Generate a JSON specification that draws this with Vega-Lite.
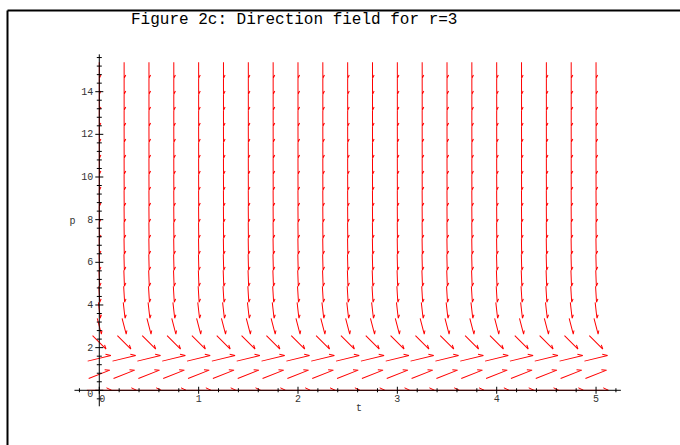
{
  "$schema": "https://vega.github.io/schema/vega-lite/v6.json",
  "width": 673,
  "height": 435,
  "autosize": {"type": "none"},
  "padding": {"left": 7, "top": 10, "right": 0, "bottom": 0},
  "background": "white",
  "config": {"view": {"stroke": null}},
  "title": {"text": "Figure 2c: Direction field for r=3", "font": "Liberation Mono", "fontSize": 16, "fontWeight": "normal", "color": "black", "anchor": "start", "frame": "group", "baseline": "alphabetic", "dx": 124, "offset": -30},
  "datasets": {
    "levels": [
      {"p":0,"ang":0,"len":1},
      {"p":0.75,"ang":-21.4,"len":0.917},
      {"p":1.5,"ang":-13.6,"len":0.963},
      {"p":2.25,"ang":44.9,"len":0.767},
      {"p":3,"ang":75.5,"len":0.656},
      {"p":3.75,"ang":83.6,"len":0.646},
      {"p":4.5,"ang":86.6,"len":0.645},
      {"p":5.25,"ang":87.9,"len":0.644},
      {"p":6,"ang":88.6,"len":0.644},
      {"p":6.75,"ang":89.1,"len":0.644},
      {"p":7.5,"ang":89.3,"len":0.644},
      {"p":8.25,"ang":89.5,"len":0.644},
      {"p":9,"ang":89.6,"len":0.644},
      {"p":9.75,"ang":89.7,"len":0.644},
      {"p":10.5,"ang":89.8,"len":0.644},
      {"p":11.25,"ang":89.8,"len":0.644},
      {"p":12,"ang":89.8,"len":0.644},
      {"p":12.75,"ang":89.9,"len":0.644},
      {"p":13.5,"ang":89.9,"len":0.644},
      {"p":14.25,"ang":89.9,"len":0.644},
      {"p":15,"ang":89.9,"len":0.644}
    ],
    "grid": [
      {"t":0,"p":0},{"t":0.25,"p":0},{"t":0.5,"p":0},{"t":0.75,"p":0},{"t":1,"p":0},{"t":1.25,"p":0},{"t":1.5,"p":0},{"t":1.75,"p":0},{"t":2,"p":0},{"t":2.25,"p":0},{"t":2.5,"p":0},{"t":2.75,"p":0},{"t":3,"p":0},{"t":3.25,"p":0},{"t":3.5,"p":0},{"t":3.75,"p":0},{"t":4,"p":0},{"t":4.25,"p":0},{"t":4.5,"p":0},{"t":4.75,"p":0},{"t":5,"p":0},
      {"t":0,"p":0.75},{"t":0.25,"p":0.75},{"t":0.5,"p":0.75},{"t":0.75,"p":0.75},{"t":1,"p":0.75},{"t":1.25,"p":0.75},{"t":1.5,"p":0.75},{"t":1.75,"p":0.75},{"t":2,"p":0.75},{"t":2.25,"p":0.75},{"t":2.5,"p":0.75},{"t":2.75,"p":0.75},{"t":3,"p":0.75},{"t":3.25,"p":0.75},{"t":3.5,"p":0.75},{"t":3.75,"p":0.75},{"t":4,"p":0.75},{"t":4.25,"p":0.75},{"t":4.5,"p":0.75},{"t":4.75,"p":0.75},{"t":5,"p":0.75},
      {"t":0,"p":1.5},{"t":0.25,"p":1.5},{"t":0.5,"p":1.5},{"t":0.75,"p":1.5},{"t":1,"p":1.5},{"t":1.25,"p":1.5},{"t":1.5,"p":1.5},{"t":1.75,"p":1.5},{"t":2,"p":1.5},{"t":2.25,"p":1.5},{"t":2.5,"p":1.5},{"t":2.75,"p":1.5},{"t":3,"p":1.5},{"t":3.25,"p":1.5},{"t":3.5,"p":1.5},{"t":3.75,"p":1.5},{"t":4,"p":1.5},{"t":4.25,"p":1.5},{"t":4.5,"p":1.5},{"t":4.75,"p":1.5},{"t":5,"p":1.5},
      {"t":0,"p":2.25},{"t":0.25,"p":2.25},{"t":0.5,"p":2.25},{"t":0.75,"p":2.25},{"t":1,"p":2.25},{"t":1.25,"p":2.25},{"t":1.5,"p":2.25},{"t":1.75,"p":2.25},{"t":2,"p":2.25},{"t":2.25,"p":2.25},{"t":2.5,"p":2.25},{"t":2.75,"p":2.25},{"t":3,"p":2.25},{"t":3.25,"p":2.25},{"t":3.5,"p":2.25},{"t":3.75,"p":2.25},{"t":4,"p":2.25},{"t":4.25,"p":2.25},{"t":4.5,"p":2.25},{"t":4.75,"p":2.25},{"t":5,"p":2.25},
      {"t":0,"p":3},{"t":0.25,"p":3},{"t":0.5,"p":3},{"t":0.75,"p":3},{"t":1,"p":3},{"t":1.25,"p":3},{"t":1.5,"p":3},{"t":1.75,"p":3},{"t":2,"p":3},{"t":2.25,"p":3},{"t":2.5,"p":3},{"t":2.75,"p":3},{"t":3,"p":3},{"t":3.25,"p":3},{"t":3.5,"p":3},{"t":3.75,"p":3},{"t":4,"p":3},{"t":4.25,"p":3},{"t":4.5,"p":3},{"t":4.75,"p":3},{"t":5,"p":3},
      {"t":0,"p":3.75},{"t":0.25,"p":3.75},{"t":0.5,"p":3.75},{"t":0.75,"p":3.75},{"t":1,"p":3.75},{"t":1.25,"p":3.75},{"t":1.5,"p":3.75},{"t":1.75,"p":3.75},{"t":2,"p":3.75},{"t":2.25,"p":3.75},{"t":2.5,"p":3.75},{"t":2.75,"p":3.75},{"t":3,"p":3.75},{"t":3.25,"p":3.75},{"t":3.5,"p":3.75},{"t":3.75,"p":3.75},{"t":4,"p":3.75},{"t":4.25,"p":3.75},{"t":4.5,"p":3.75},{"t":4.75,"p":3.75},{"t":5,"p":3.75},
      {"t":0,"p":4.5},{"t":0.25,"p":4.5},{"t":0.5,"p":4.5},{"t":0.75,"p":4.5},{"t":1,"p":4.5},{"t":1.25,"p":4.5},{"t":1.5,"p":4.5},{"t":1.75,"p":4.5},{"t":2,"p":4.5},{"t":2.25,"p":4.5},{"t":2.5,"p":4.5},{"t":2.75,"p":4.5},{"t":3,"p":4.5},{"t":3.25,"p":4.5},{"t":3.5,"p":4.5},{"t":3.75,"p":4.5},{"t":4,"p":4.5},{"t":4.25,"p":4.5},{"t":4.5,"p":4.5},{"t":4.75,"p":4.5},{"t":5,"p":4.5},
      {"t":0,"p":5.25},{"t":0.25,"p":5.25},{"t":0.5,"p":5.25},{"t":0.75,"p":5.25},{"t":1,"p":5.25},{"t":1.25,"p":5.25},{"t":1.5,"p":5.25},{"t":1.75,"p":5.25},{"t":2,"p":5.25},{"t":2.25,"p":5.25},{"t":2.5,"p":5.25},{"t":2.75,"p":5.25},{"t":3,"p":5.25},{"t":3.25,"p":5.25},{"t":3.5,"p":5.25},{"t":3.75,"p":5.25},{"t":4,"p":5.25},{"t":4.25,"p":5.25},{"t":4.5,"p":5.25},{"t":4.75,"p":5.25},{"t":5,"p":5.25},
      {"t":0,"p":6},{"t":0.25,"p":6},{"t":0.5,"p":6},{"t":0.75,"p":6},{"t":1,"p":6},{"t":1.25,"p":6},{"t":1.5,"p":6},{"t":1.75,"p":6},{"t":2,"p":6},{"t":2.25,"p":6},{"t":2.5,"p":6},{"t":2.75,"p":6},{"t":3,"p":6},{"t":3.25,"p":6},{"t":3.5,"p":6},{"t":3.75,"p":6},{"t":4,"p":6},{"t":4.25,"p":6},{"t":4.5,"p":6},{"t":4.75,"p":6},{"t":5,"p":6},
      {"t":0,"p":6.75},{"t":0.25,"p":6.75},{"t":0.5,"p":6.75},{"t":0.75,"p":6.75},{"t":1,"p":6.75},{"t":1.25,"p":6.75},{"t":1.5,"p":6.75},{"t":1.75,"p":6.75},{"t":2,"p":6.75},{"t":2.25,"p":6.75},{"t":2.5,"p":6.75},{"t":2.75,"p":6.75},{"t":3,"p":6.75},{"t":3.25,"p":6.75},{"t":3.5,"p":6.75},{"t":3.75,"p":6.75},{"t":4,"p":6.75},{"t":4.25,"p":6.75},{"t":4.5,"p":6.75},{"t":4.75,"p":6.75},{"t":5,"p":6.75},
      {"t":0,"p":7.5},{"t":0.25,"p":7.5},{"t":0.5,"p":7.5},{"t":0.75,"p":7.5},{"t":1,"p":7.5},{"t":1.25,"p":7.5},{"t":1.5,"p":7.5},{"t":1.75,"p":7.5},{"t":2,"p":7.5},{"t":2.25,"p":7.5},{"t":2.5,"p":7.5},{"t":2.75,"p":7.5},{"t":3,"p":7.5},{"t":3.25,"p":7.5},{"t":3.5,"p":7.5},{"t":3.75,"p":7.5},{"t":4,"p":7.5},{"t":4.25,"p":7.5},{"t":4.5,"p":7.5},{"t":4.75,"p":7.5},{"t":5,"p":7.5},
      {"t":0,"p":8.25},{"t":0.25,"p":8.25},{"t":0.5,"p":8.25},{"t":0.75,"p":8.25},{"t":1,"p":8.25},{"t":1.25,"p":8.25},{"t":1.5,"p":8.25},{"t":1.75,"p":8.25},{"t":2,"p":8.25},{"t":2.25,"p":8.25},{"t":2.5,"p":8.25},{"t":2.75,"p":8.25},{"t":3,"p":8.25},{"t":3.25,"p":8.25},{"t":3.5,"p":8.25},{"t":3.75,"p":8.25},{"t":4,"p":8.25},{"t":4.25,"p":8.25},{"t":4.5,"p":8.25},{"t":4.75,"p":8.25},{"t":5,"p":8.25},
      {"t":0,"p":9},{"t":0.25,"p":9},{"t":0.5,"p":9},{"t":0.75,"p":9},{"t":1,"p":9},{"t":1.25,"p":9},{"t":1.5,"p":9},{"t":1.75,"p":9},{"t":2,"p":9},{"t":2.25,"p":9},{"t":2.5,"p":9},{"t":2.75,"p":9},{"t":3,"p":9},{"t":3.25,"p":9},{"t":3.5,"p":9},{"t":3.75,"p":9},{"t":4,"p":9},{"t":4.25,"p":9},{"t":4.5,"p":9},{"t":4.75,"p":9},{"t":5,"p":9},
      {"t":0,"p":9.75},{"t":0.25,"p":9.75},{"t":0.5,"p":9.75},{"t":0.75,"p":9.75},{"t":1,"p":9.75},{"t":1.25,"p":9.75},{"t":1.5,"p":9.75},{"t":1.75,"p":9.75},{"t":2,"p":9.75},{"t":2.25,"p":9.75},{"t":2.5,"p":9.75},{"t":2.75,"p":9.75},{"t":3,"p":9.75},{"t":3.25,"p":9.75},{"t":3.5,"p":9.75},{"t":3.75,"p":9.75},{"t":4,"p":9.75},{"t":4.25,"p":9.75},{"t":4.5,"p":9.75},{"t":4.75,"p":9.75},{"t":5,"p":9.75},
      {"t":0,"p":10.5},{"t":0.25,"p":10.5},{"t":0.5,"p":10.5},{"t":0.75,"p":10.5},{"t":1,"p":10.5},{"t":1.25,"p":10.5},{"t":1.5,"p":10.5},{"t":1.75,"p":10.5},{"t":2,"p":10.5},{"t":2.25,"p":10.5},{"t":2.5,"p":10.5},{"t":2.75,"p":10.5},{"t":3,"p":10.5},{"t":3.25,"p":10.5},{"t":3.5,"p":10.5},{"t":3.75,"p":10.5},{"t":4,"p":10.5},{"t":4.25,"p":10.5},{"t":4.5,"p":10.5},{"t":4.75,"p":10.5},{"t":5,"p":10.5},
      {"t":0,"p":11.25},{"t":0.25,"p":11.25},{"t":0.5,"p":11.25},{"t":0.75,"p":11.25},{"t":1,"p":11.25},{"t":1.25,"p":11.25},{"t":1.5,"p":11.25},{"t":1.75,"p":11.25},{"t":2,"p":11.25},{"t":2.25,"p":11.25},{"t":2.5,"p":11.25},{"t":2.75,"p":11.25},{"t":3,"p":11.25},{"t":3.25,"p":11.25},{"t":3.5,"p":11.25},{"t":3.75,"p":11.25},{"t":4,"p":11.25},{"t":4.25,"p":11.25},{"t":4.5,"p":11.25},{"t":4.75,"p":11.25},{"t":5,"p":11.25},
      {"t":0,"p":12},{"t":0.25,"p":12},{"t":0.5,"p":12},{"t":0.75,"p":12},{"t":1,"p":12},{"t":1.25,"p":12},{"t":1.5,"p":12},{"t":1.75,"p":12},{"t":2,"p":12},{"t":2.25,"p":12},{"t":2.5,"p":12},{"t":2.75,"p":12},{"t":3,"p":12},{"t":3.25,"p":12},{"t":3.5,"p":12},{"t":3.75,"p":12},{"t":4,"p":12},{"t":4.25,"p":12},{"t":4.5,"p":12},{"t":4.75,"p":12},{"t":5,"p":12},
      {"t":0,"p":12.75},{"t":0.25,"p":12.75},{"t":0.5,"p":12.75},{"t":0.75,"p":12.75},{"t":1,"p":12.75},{"t":1.25,"p":12.75},{"t":1.5,"p":12.75},{"t":1.75,"p":12.75},{"t":2,"p":12.75},{"t":2.25,"p":12.75},{"t":2.5,"p":12.75},{"t":2.75,"p":12.75},{"t":3,"p":12.75},{"t":3.25,"p":12.75},{"t":3.5,"p":12.75},{"t":3.75,"p":12.75},{"t":4,"p":12.75},{"t":4.25,"p":12.75},{"t":4.5,"p":12.75},{"t":4.75,"p":12.75},{"t":5,"p":12.75},
      {"t":0,"p":13.5},{"t":0.25,"p":13.5},{"t":0.5,"p":13.5},{"t":0.75,"p":13.5},{"t":1,"p":13.5},{"t":1.25,"p":13.5},{"t":1.5,"p":13.5},{"t":1.75,"p":13.5},{"t":2,"p":13.5},{"t":2.25,"p":13.5},{"t":2.5,"p":13.5},{"t":2.75,"p":13.5},{"t":3,"p":13.5},{"t":3.25,"p":13.5},{"t":3.5,"p":13.5},{"t":3.75,"p":13.5},{"t":4,"p":13.5},{"t":4.25,"p":13.5},{"t":4.5,"p":13.5},{"t":4.75,"p":13.5},{"t":5,"p":13.5},
      {"t":0,"p":14.25},{"t":0.25,"p":14.25},{"t":0.5,"p":14.25},{"t":0.75,"p":14.25},{"t":1,"p":14.25},{"t":1.25,"p":14.25},{"t":1.5,"p":14.25},{"t":1.75,"p":14.25},{"t":2,"p":14.25},{"t":2.25,"p":14.25},{"t":2.5,"p":14.25},{"t":2.75,"p":14.25},{"t":3,"p":14.25},{"t":3.25,"p":14.25},{"t":3.5,"p":14.25},{"t":3.75,"p":14.25},{"t":4,"p":14.25},{"t":4.25,"p":14.25},{"t":4.5,"p":14.25},{"t":4.75,"p":14.25},{"t":5,"p":14.25},
      {"t":0,"p":15},{"t":0.25,"p":15},{"t":0.5,"p":15},{"t":0.75,"p":15},{"t":1,"p":15},{"t":1.25,"p":15},{"t":1.5,"p":15},{"t":1.75,"p":15},{"t":2,"p":15},{"t":2.25,"p":15},{"t":2.5,"p":15},{"t":2.75,"p":15},{"t":3,"p":15},{"t":3.25,"p":15},{"t":3.5,"p":15},{"t":3.75,"p":15},{"t":4,"p":15},{"t":4.25,"p":15},{"t":4.5,"p":15},{"t":4.75,"p":15},{"t":5,"p":15}
    ],
    "xMinor": [
      {"t":-0.2},{"t":0.2},{"t":0.4},{"t":0.6},{"t":0.8},{"t":1.2},{"t":1.4},{"t":1.6},{"t":1.8},{"t":2.2},{"t":2.4},{"t":2.6},{"t":2.8},{"t":3.2},{"t":3.4},{"t":3.6},{"t":3.8},{"t":4.2},{"t":4.4},{"t":4.6},{"t":4.8},{"t":5.2}
    ],
    "xMajor": [
      {"t":0,"lab":"0"},{"t":1,"lab":"1"},{"t":2,"lab":"2"},{"t":3,"lab":"3"},{"t":4,"lab":"4"},{"t":5,"lab":"5"}
    ],
    "yMinor": [
      {"p":-0.4},{"p":0.4},{"p":0.8},{"p":1.2},{"p":1.6},{"p":2.4},{"p":2.8},{"p":3.2},{"p":3.6},{"p":4.4},{"p":4.8},{"p":5.2},{"p":5.6},{"p":6.4},{"p":6.8},{"p":7.2},{"p":7.6},{"p":8.4},{"p":8.8},{"p":9.2},{"p":9.6},{"p":10.4},{"p":10.8},{"p":11.2},{"p":11.6},{"p":12.4},{"p":12.8},{"p":13.2},{"p":13.6},{"p":14.4},{"p":14.8},{"p":15.2},{"p":15.6}
    ],
    "yMajor": [
      {"p":0,"lab":"0"},{"p":2,"lab":"2"},{"p":4,"lab":"4"},{"p":6,"lab":"6"},{"p":8,"lab":"8"},{"p":10,"lab":"10"},{"p":12,"lab":"12"},{"p":14,"lab":"14"}
    ]
  },
  "layer": [
    {
      "data": {"name": "grid"},
      "transform": [{"lookup": "p", "from": {"data": {"name": "levels"}, "key": "p", "fields": ["ang", "len"]}}],
      "mark": {"type": "point", "shape": "M-1,0L1,0M1,0L0.58,-0.2", "filled": false, "stroke": "#ff0000", "strokeWidth": 1, "opacity": 1, "strokeOpacity": 1},
      "encoding": {
        "x": {"field": "t", "type": "quantitative", "scale": {"domain": [-0.929, 5.845], "nice": false, "zero": false},
              "axis": {"orient": "top", "domain": true, "domainColor": "black", "domainWidth": 2, "ticks": false, "labels": false, "grid": false, "title": null}},
        "y": {"field": "p", "type": "quantitative", "scale": {"domain": [-2.5645, 17.829], "nice": false, "zero": false},
              "axis": {"orient": "left", "domain": true, "domainColor": "black", "domainWidth": 2, "ticks": false, "labels": false, "grid": false, "title": null}},
        "angle": {"field": "ang", "type": "quantitative", "scale": null},
        "size": {"field": "len", "type": "quantitative", "scale": {"type": "pow", "exponent": 2, "domain": [0, 1], "range": [0, 617]}, "legend": null}
      }
    },
    {
      "data": {"values": [{}]},
      "mark": {"type": "rule", "color": "black", "strokeWidth": 1},
      "encoding": {"x": {"datum": -0.25}, "x2": {"datum": 5.25}, "y": {"datum": 0}}
    },
    {
      "data": {"values": [{}]},
      "mark": {"type": "rule", "color": "black", "strokeWidth": 1},
      "encoding": {"y": {"datum": -0.75}, "y2": {"datum": 15.75}, "x": {"datum": 0}}
    },
    {
      "data": {"name": "xMinor"},
      "mark": {"type": "tick", "orient": "vertical", "size": 4, "thickness": 1, "color": "black", "opacity": 1},
      "encoding": {"x": {"field": "t", "type": "quantitative"}, "y": {"datum": 0}}
    },
    {
      "data": {"name": "xMajor"},
      "mark": {"type": "tick", "orient": "vertical", "size": 7, "thickness": 1, "color": "black", "opacity": 1},
      "encoding": {"x": {"field": "t", "type": "quantitative"}, "y": {"datum": 0}}
    },
    {
      "data": {"name": "yMinor"},
      "mark": {"type": "tick", "orient": "horizontal", "size": 5, "thickness": 1, "color": "black", "opacity": 1},
      "encoding": {"y": {"field": "p", "type": "quantitative"}, "x": {"datum": 0}}
    },
    {
      "data": {"name": "yMajor"},
      "mark": {"type": "tick", "orient": "horizontal", "size": 8, "thickness": 1, "color": "black", "opacity": 1},
      "encoding": {"y": {"field": "p", "type": "quantitative"}, "x": {"datum": 0}}
    },
    {
      "data": {"name": "xMajor"},
      "transform": [{"filter": "datum.t > 0"}],
      "mark": {"type": "text", "font": "Liberation Mono", "fontSize": 10, "color": "#333333", "align": "center", "baseline": "top", "dy": 4},
      "encoding": {"x": {"field": "t", "type": "quantitative"}, "y": {"datum": 0}, "text": {"field": "lab"}}
    },
    {
      "data": {"name": "yMajor"},
      "transform": [{"filter": "datum.p > 0"}],
      "mark": {"type": "text", "font": "Liberation Mono", "fontSize": 10, "color": "#333333", "align": "right", "baseline": "middle", "dx": -6},
      "encoding": {"y": {"field": "p", "type": "quantitative"}, "x": {"datum": 0}, "text": {"field": "lab"}}
    },
    {
      "data": {"values": [{}]},
      "mark": {"type": "text", "text": "0", "font": "Liberation Mono", "fontSize": 10, "color": "#333333", "align": "center", "baseline": "top", "dx": 3, "dy": 4},
      "encoding": {"x": {"datum": 0}, "y": {"datum": 0}}
    },
    {
      "data": {"values": [{}]},
      "mark": {"type": "text", "text": "0", "font": "Liberation Mono", "fontSize": 10, "color": "#333333", "align": "right", "baseline": "middle", "dx": -6, "dy": 4},
      "encoding": {"x": {"datum": 0}, "y": {"datum": 0}}
    },
    {
      "data": {"values": [{}]},
      "mark": {"type": "text", "text": "t", "font": "Liberation Mono", "fontSize": 10, "color": "#333333", "align": "center", "baseline": "middle"},
      "encoding": {"x": {"datum": 2.614}, "y": {"datum": -0.83}}
    },
    {
      "data": {"values": [{}]},
      "mark": {"type": "text", "text": "p", "font": "Liberation Mono", "fontSize": 10, "color": "#333333", "align": "center", "baseline": "middle"},
      "encoding": {"x": {"datum": -0.27}, "y": {"datum": 7.95}}
    }
  ]
}
